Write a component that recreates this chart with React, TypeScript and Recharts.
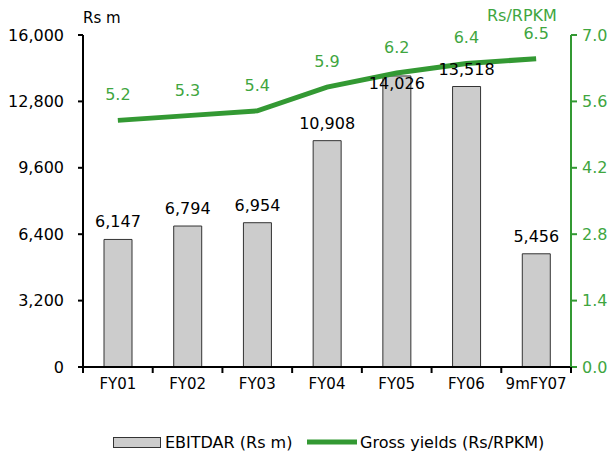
import { ComposedChart, Bar, Line, XAxis, YAxis, LabelList } from "recharts";

const years = ["FY01", "FY02", "FY03", "FY04", "FY05", "FY06", "9mFY07"];
const ebitdar = [6147, 6794, 6954, 10908, 14026, 13518, 5456];
const grossYields = [5.2, 5.3, 5.4, 5.9, 6.2, 6.4, 6.5];
const leftTicks = [0, 3200, 6400, 9600, 12800, 16000];
const rightTicks = [0, 1.4, 2.8, 4.2, 5.6, 7.0];

const data = years.map((year, i) => ({
  year,
  ebitdar: ebitdar[i],
  yields: grossYields[i],
}));

const FONT = "'DejaVu Sans', Verdana, sans-serif";
const GREEN = "#339933";
const GREEN_TEXT = "#3fa63f";

// category labels at the band centre, tick marks on the band edges
function YearTick(props: any) {
  const { x, y, payload, index } = props;
  const half = payload?.offset ?? 34.86;
  const axisY = 367;
  return (
    <g>
      <line x1={x - half} y1={axisY} x2={x - half} y2={axisY + 6} stroke="#000" strokeWidth={2} />
      {index === years.length - 1 && (
        <line x1={x + half} y1={axisY} x2={x + half} y2={axisY + 6} stroke="#000" strokeWidth={2} />
      )}
      <text x={x} y={y + 14} textAnchor="middle" fontSize={15} fontFamily={FONT} fill="#000">
        {payload.value}
      </text>
    </g>
  );
}

function BarValue(props: any) {
  const { x, y, width, value, index } = props;
  // FY05 label sits on the bar top so it clears the yield line
  const dy = index === 4 ? 13 : -12;
  return (
    <text x={x + width / 2} y={y + dy} textAnchor="middle" fontSize={16} fontFamily={FONT} fill="#000">
      {Number(value).toLocaleString("en-US")}
    </text>
  );
}

export default function App() {
  return (
    <div style={{ position: "absolute", left: 0, top: 0, width: 613, height: 456, background: "#fff" }}>
      <div style={{ position: "absolute", left: 83, top: 9, fontFamily: FONT, fontSize: 15, color: "#000" }}>
        Rs m
      </div>
      <div style={{ position: "absolute", left: 487, top: 6, fontFamily: FONT, fontSize: 16, color: GREEN_TEXT }}>
        Rs/RPKM
      </div>
      <ComposedChart
        width={613}
        height={456}
        data={data}
        margin={{ top: 35, right: 0, bottom: 59, left: 8 }}
      >
        <XAxis
          dataKey="year"
          height={30}
          axisLine={{ stroke: "#000", strokeWidth: 2 }}
          tickLine={false}
          tick={<YearTick />}
          interval={0}
        />
        <YAxis
          yAxisId="left"
          width={75}
          domain={[0, 16000]}
          ticks={leftTicks}
          interval={0}
          tickFormatter={(v: number) => v.toLocaleString("en-US")}
          axisLine={{ stroke: "#000", strokeWidth: 2 }}
          tickLine={{ stroke: "#000", strokeWidth: 2 }}
          tickSize={5}
          tickMargin={14}
          tick={{ fontSize: 16, fontFamily: FONT, fill: "#000" }}
        />
        <YAxis
          yAxisId="right"
          orientation="right"
          width={42}
          domain={[0, 7]}
          ticks={rightTicks}
          interval={0}
          tickFormatter={(v: number) => v.toFixed(1)}
          axisLine={{ stroke: GREEN, strokeWidth: 2 }}
          tickLine={{ stroke: GREEN, strokeWidth: 2 }}
          tickSize={6}
          tickMargin={5}
          tick={{ fontSize: 16, fontFamily: FONT, fill: GREEN_TEXT, textAnchor: "start" }}
        />
        <Bar
          yAxisId="left"
          dataKey="ebitdar"
          barSize={28}
          fill="#cccccc"
          stroke="#333333"
          strokeWidth={1}
          isAnimationActive={false}
        >
          <LabelList dataKey="ebitdar" content={<BarValue />} />
        </Bar>
        <Line
          yAxisId="right"
          dataKey="yields"
          stroke={GREEN}
          strokeWidth={5}
          dot={false}
          activeDot={false}
          isAnimationActive={false}
        >
          <LabelList
            dataKey="yields"
            position="top"
            offset={20}
            formatter={(v: number) => v.toFixed(1)}
            style={{ fontSize: 16, fontFamily: FONT, fill: GREEN_TEXT }}
          />
        </Line>
      </ComposedChart>
      <svg style={{ position: "absolute", left: 0, top: 425 }} width={613} height={31}>
        <rect x={113.5} y={12.5} width={47} height={10} fill="#cccccc" stroke="#333333" />
        <text x={165} y={23} fontSize={16} fontFamily={FONT} fill="#000">
          EBITDAR (Rs m)
        </text>
        <line x1={307} y1={17} x2={357} y2={17} stroke={GREEN} strokeWidth={5} />
        <text x={360} y={23} fontSize={16} fontFamily={FONT} fill="#000">
          Gross yields (Rs/RPKM)
        </text>
      </svg>
    </div>
  );
}
